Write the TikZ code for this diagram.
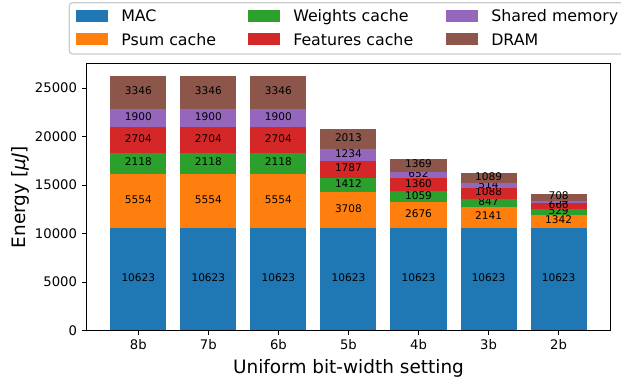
\documentclass[tikz,border=0pt]{standalone}
\usepackage{fontspec}
\usepackage{xfp}
\setmainfont{DejaVu Sans}
\definecolor{cmac}{HTML}{1F77B4}
\definecolor{cpsum}{HTML}{FF7F0E}
\definecolor{cwts}{HTML}{2CA02C}
\definecolor{cfeat}{HTML}{D62728}
\definecolor{cshm}{HTML}{9467BD}
\definecolor{cdram}{HTML}{8C564B}
\tikzset{
  barlbl/.style={font=\fontsize{8}{9.6}\selectfont, inner sep=0pt, yshift=1pt},
  ticklbl/.style={font=\fontsize{10}{12}\selectfont, inner sep=0pt},
  leglbl/.style={font=\fontsize{12}{14.4}\selectfont, inner sep=0pt, anchor=base west},
  axlbl/.style={font=\fontsize{14}{16.8}\selectfont, inner sep=0pt, anchor=base},
  spine/.style={line width=0.8pt}
}
\begin{document}
\begin{tikzpicture}[x=0.758pt,y=-0.758pt]
\useasboundingbox (0,0) rectangle (621,379);

% stacked bars, one per setting (y in thousands)
\begin{scope}[shift={(138.3,330.7)},x=53.1pt,y=7.355pt]
\foreach \lab/\vmac/\vpsum/\vwts/\vfeat/\vshm/\vdram [count=\i from 0] in
  {8b/10623/5554/2118/2704/1900/3346, 7b/10623/5554/2118/2704/1900/3346,
   6b/10623/5554/2118/2704/1900/3346, 5b/10623/3708/1412/1787/1234/2013,
   4b/10623/2676/1059/1360/652/1369, 3b/10623/2141/847/1088/514/1089,
   2b/10623/1342/529/666/234/708} {
  \xdef\segbase{0}
  \foreach \v/\col [count=\j] in {\vmac/cmac,\vpsum/cpsum,\vwts/cwts,\vfeat/cfeat,\vshm/cshm,\vdram/cdram} {
    \edef\segtop{\fpeval{\segbase+\v/1000}}
    \fill[\col] (\i-0.4,\segbase) rectangle (\i+0.4,\segtop);
    \node[barlbl] (v\lab-\j) at (\i,{(\segbase+\segtop)/2}) {\v};
    \xdef\segbase{\segtop}
  }
  \draw[spine] (\i,0) -- ++(0,-3.5pt);
  \node[ticklbl,anchor=base] (xt\lab) at ([yshift=-14.6pt]\i,0) {\lab};
}
\foreach \t/\lab in {0/0,5/5000,10/10000,15/15000,20/20000,25/25000} {
  \draw[spine] (-0.74,\t) -- ++(-3.5pt,0);
  \node[ticklbl,anchor=east] (yt\lab) at ([xshift=-7pt]-0.74,\t) {\lab};
}
\end{scope}

% axes frame
\draw[spine] (86.5,63.3) rectangle (610.5,330.7);
\node[axlbl] (xlab) at (348.5,373) {Uniform bit-width setting};
\node[axlbl,rotate=90] (ylab) at (26,197) {Energy [{\itshape μJ}]};

% legend
\draw[black!20,fill=white,line width=1pt,rounded corners=2.5pt] (69.3,2.7) rectangle (630,54);
\foreach \col/\txt/\lx/\ly [count=\k] in {cmac/MAC/76/21.7, cpsum/Psum cache/76/45,
    cwts/Weights cache/248/21.7, cfeat/Features cache/248/45,
    cshm/Shared memory/446/21.7, cdram/DRAM/446/45} {
  \fill[\col] (\lx,\ly-11.6) rectangle +(31.7,11.4);
  \node[leglbl] (leg\k) at (\lx+45,\ly) {\txt};
}
\end{tikzpicture}
\end{document}
